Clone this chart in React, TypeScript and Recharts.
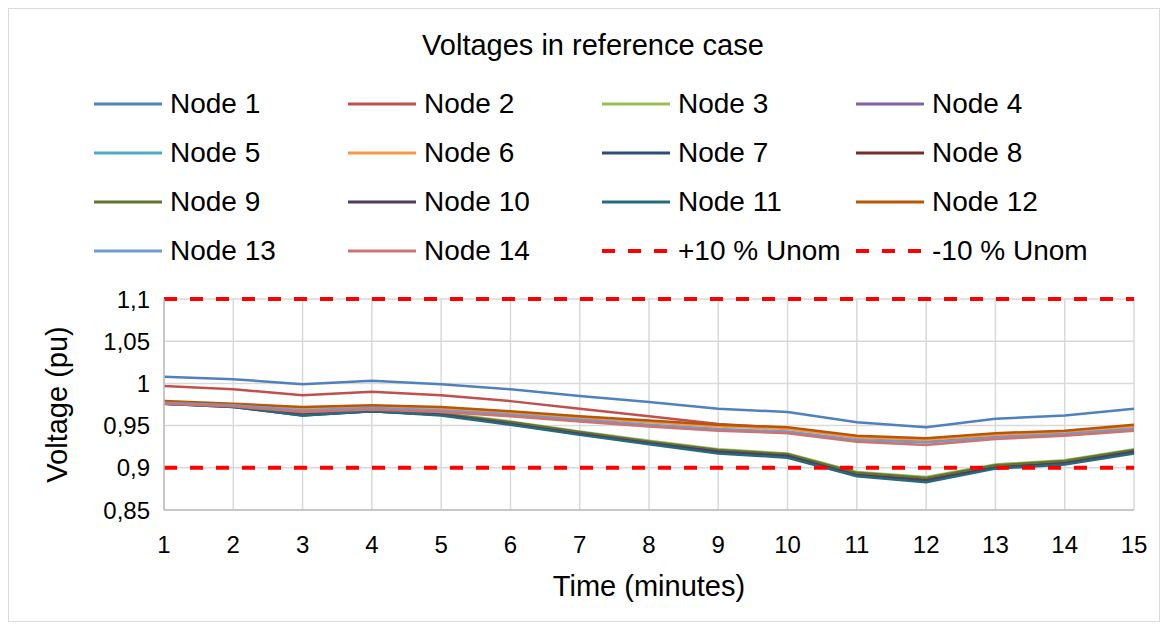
import { LineChart, Line, XAxis, YAxis, CartesianGrid, Legend } from 'recharts'

const minutes = [1, 2, 3, 4, 5, 6, 7, 8, 9, 10, 11, 12, 13, 14, 15]
const yTicks = [0.85, 0.9, 0.95, 1, 1.05, 1.1]

const node1 = [1.008, 1.005, 0.999, 1.003, 0.999, 0.993, 0.985, 0.978, 0.970, 0.966, 0.954, 0.948, 0.958, 0.962, 0.970]
const node2 = [0.997, 0.993, 0.986, 0.990, 0.986, 0.979, 0.970, 0.961, 0.952, 0.947, 0.936, 0.932, 0.938, 0.941, 0.949]
const node3 = [0.978, 0.974, 0.965, 0.969, 0.965, 0.955, 0.943, 0.932, 0.922, 0.917, 0.895, 0.889, 0.904, 0.909, 0.922]
const node4 = [0.977, 0.973, 0.964, 0.968, 0.964, 0.954, 0.942, 0.931, 0.920, 0.915, 0.893, 0.887, 0.902, 0.907, 0.920]
const node5 = [0.977, 0.973, 0.964, 0.968, 0.964, 0.953, 0.941, 0.930, 0.920, 0.915, 0.893, 0.886, 0.902, 0.907, 0.920]
const node6 = [0.978, 0.975, 0.970, 0.972, 0.970, 0.965, 0.959, 0.954, 0.949, 0.946, 0.936, 0.933, 0.939, 0.942, 0.949]
const node7 = [0.976, 0.972, 0.962, 0.967, 0.963, 0.952, 0.940, 0.929, 0.918, 0.913, 0.891, 0.884, 0.900, 0.905, 0.918]
const node8 = [0.977, 0.973, 0.963, 0.968, 0.963, 0.953, 0.941, 0.930, 0.919, 0.914, 0.892, 0.886, 0.901, 0.906, 0.919]
const node9 = [0.977, 0.974, 0.964, 0.969, 0.964, 0.954, 0.942, 0.931, 0.921, 0.916, 0.894, 0.888, 0.903, 0.908, 0.921]
const node10 = [0.976, 0.973, 0.963, 0.967, 0.963, 0.952, 0.940, 0.929, 0.919, 0.914, 0.891, 0.885, 0.900, 0.905, 0.919]
const node11 = [0.976, 0.972, 0.962, 0.967, 0.962, 0.951, 0.939, 0.928, 0.917, 0.912, 0.890, 0.883, 0.899, 0.904, 0.917]
const node12 = [0.979, 0.976, 0.972, 0.974, 0.972, 0.967, 0.961, 0.956, 0.951, 0.948, 0.938, 0.935, 0.941, 0.944, 0.951]
const node13 = [0.977, 0.974, 0.968, 0.971, 0.968, 0.963, 0.957, 0.951, 0.946, 0.943, 0.933, 0.930, 0.936, 0.940, 0.946]
const node14 = [0.976, 0.973, 0.966, 0.969, 0.966, 0.961, 0.955, 0.949, 0.944, 0.941, 0.931, 0.927, 0.934, 0.938, 0.944]
const upperLimit = [1.1, 1.1, 1.1, 1.1, 1.1, 1.1, 1.1, 1.1, 1.1, 1.1, 1.1, 1.1, 1.1, 1.1, 1.1]
const lowerLimit = [0.9, 0.9, 0.9, 0.9, 0.9, 0.9, 0.9, 0.9, 0.9, 0.9, 0.9, 0.9, 0.9, 0.9, 0.9]

const seriesNames = [
  'Node 1', 'Node 2', 'Node 3', 'Node 4', 'Node 5', 'Node 6', 'Node 7', 'Node 8',
  'Node 9', 'Node 10', 'Node 11', 'Node 12', 'Node 13', 'Node 14', '+10 % Unom', '-10 % Unom',
]
const seriesValues = [
  node1, node2, node3, node4, node5, node6, node7, node8,
  node9, node10, node11, node12, node13, node14, upperLimit, lowerLimit,
]
const seriesColors = [
  '#4F81BD', '#C0504D', '#9BBB59', '#8064A2', '#4BACC6', '#F79646', '#2C4D75', '#772C2A',
  '#5F7530', '#4D3B62', '#276A7C', '#B65708', '#729ACA', '#CD7371', '#FF0000', '#FF0000',
]

const font = '"Liberation Sans", Arial, sans-serif'
const DASH = '13 13'

const data = minutes.map((t, i) => {
  const row: any = { t }
  seriesValues.forEach((vals, s) => {
    row['s' + s] = vals[i]
  })
  return row
})

const fmt = (v: number) => String(v).replace('.', ',')

function LegendGrid() {
  return (
    <div style={{ height: 220, paddingLeft: 85, boxSizing: 'border-box', fontFamily: font }}>
      <div style={{ display: 'grid', gridTemplateColumns: 'repeat(4, 254px)', gridAutoRows: '49px' }}>
        {seriesNames.map((name, s) => {
          const dashed = s >= 14
          return (
            <div key={name} style={{ display: 'flex', alignItems: 'center', whiteSpace: 'nowrap' }}>
              <svg width={68} height={10} style={{ marginRight: 8 }}>
                <line
                  x1={0} y1={5} x2={68} y2={5}
                  stroke={seriesColors[s]}
                  strokeWidth={dashed ? 4 : 3}
                  strokeDasharray={dashed ? DASH : undefined}
                />
              </svg>
              <span style={{ fontSize: 28, color: '#000', lineHeight: '28px' }}>{name}</span>
            </div>
          )
        })}
      </div>
    </div>
  )
}

export default function App() {
  return (
    <div style={{ position: 'relative', width: 1150, height: 612, border: '1px solid #D9D9D9', background: '#fff' }}>
      <div style={{
        position: 'absolute', top: 22, left: 9, width: 1150, textAlign: 'center',
        fontFamily: font, fontSize: 29, lineHeight: '29px', color: '#000',
      }}>
        Voltages in reference case
      </div>
      <LineChart width={1150} height={612} data={data} margin={{ top: 70, right: 25, bottom: 31, left: 0 }}>
        <CartesianGrid stroke="#D9D9D9" strokeWidth={1.5} />
        <XAxis
          dataKey="t"
          type="number"
          domain={[1, 15]}
          ticks={minutes}
          interval={0}
          height={80}
          tickLine={false}
          tickSize={6}
          tickMargin={20}
          axisLine={{ stroke: '#BFBFBF', strokeWidth: 1.5 }}
          tick={{ fontSize: 24, fill: '#000', fontFamily: font }}
          label={{
            content: ({ viewBox }: any) => (
              <text
                x={viewBox.x + viewBox.width / 2}
                y={viewBox.y + 76}
                textAnchor="middle"
                dominantBaseline="central"
                fontSize={29}
                fontFamily={font}
                fill="#000"
              >
                Time (minutes)
              </text>
            ),
          }}
        />
        <YAxis
          type="number"
          domain={[0.85, 1.1]}
          ticks={yTicks}
          interval={0}
          width={155}
          tickLine={false}
          tickSize={6}
          tickMargin={8}
          tickFormatter={fmt}
          axisLine={{ stroke: '#BFBFBF', strokeWidth: 1.5 }}
          tick={{ fontSize: 24, fill: '#000', fontFamily: font }}
          label={{
            content: ({ viewBox }: any) => {
              const cx = viewBox.x + 48
              const cy = viewBox.y + viewBox.height / 2
              return (
                <text
                  x={cx}
                  y={cy}
                  transform={`rotate(-90 ${cx} ${cy})`}
                  textAnchor="middle"
                  dominantBaseline="central"
                  fontSize={29}
                  fontFamily={font}
                  fill="#000"
                >
                  Voltage (pu)
                </text>
              )
            },
          }}
        />
        <Legend verticalAlign="top" align="left" content={() => <LegendGrid />} />
        {seriesNames.map((name, s) => (
          <Line
            key={name}
            name={name}
            dataKey={'s' + s}
            type="linear"
            stroke={seriesColors[s]}
            strokeWidth={s >= 14 ? 4 : 2.5}
            strokeDasharray={s >= 14 ? DASH : undefined}
            dot={false}
            activeDot={false}
            isAnimationActive={false}
          />
        ))}
      </LineChart>
    </div>
  )
}
